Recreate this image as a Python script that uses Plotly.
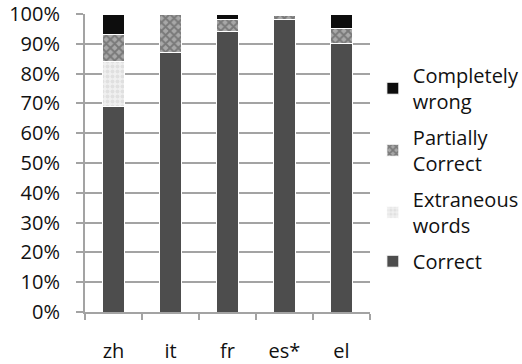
import plotly.graph_objects as go

categories = ["zh", "it", "fr", "es*", "el"]
correct = [69, 87, 94, 98, 90]
extraneous = [15, 0, 0, 0, 0]
partial = [9, 13, 4, 1.5, 5]
wrong = [7, 0, 2, 0.5, 5]
y_ticks = [0, 10, 20, 30, 40, 50, 60, 70, 80, 90, 100]
y_labels = [f"{v}%" for v in y_ticks]

FONT = "Open Sans"
FS = 20
GRID = "#a3a3a3"

fig = go.Figure()
fig.add_trace(go.Bar(x=categories, y=correct, name="Correct", legendgroup="a", legendrank=4,
                     marker=dict(color="#4d4d4d", line=dict(color="white", width=1))))
fig.add_trace(go.Bar(x=categories, y=extraneous, name="Extraneous<br>words", legendgroup="b",
                     legendrank=3,
                     marker=dict(color="#ececec", line=dict(color="white", width=1),
                                 pattern=dict(shape=".", fgcolor="#cfcfcf", bgcolor="#f0f0f0",
                                              size=5, solidity=0.5))))
fig.add_trace(go.Bar(x=categories, y=partial, name="Partially<br>Correct", legendgroup="c",
                     legendrank=2,
                     marker=dict(color="#8a8a8a", line=dict(color="white", width=1),
                                 pattern=dict(shape="x", fgcolor="#4a4a4a", bgcolor="#a8a8a8",
                                              size=6, solidity=0.55))))
fig.add_trace(go.Bar(x=categories, y=wrong, name="Completely<br>wrong", legendgroup="d",
                     legendrank=1,
                     marker=dict(color="#0d0d0d", line=dict(color="white", width=1))))

fig.update_layout(
    barmode="stack",
    bargap=0.6,
    width=522, height=364,
    margin=dict(l=85, r=152, t=14, b=52, autoexpand=False),
    paper_bgcolor="white", plot_bgcolor="white",
    font=dict(family=FONT, size=FS, color="#111"),
    showlegend=True,
    legend=dict(x=1.01, y=0.86, xanchor="left", yanchor="top",
                traceorder="grouped", tracegroupgap=7,
                font=dict(family=FONT, size=FS, color="#111"),
                bgcolor="rgba(0,0,0,0)"),
    xaxis=dict(type="category", showgrid=False, showline=True, linecolor=GRID, linewidth=2,
               automargin=False,
               ticks="outside", tickson="boundaries", ticklen=6, tickwidth=2, tickcolor=GRID,
               ticklabelstandoff=20, tickfont=dict(family=FONT, size=FS, color="#111")),
    yaxis=dict(range=[0, 100], tickvals=y_ticks, ticktext=y_labels, automargin=False,
               showgrid=True, gridcolor=GRID, gridwidth=2,
               showline=True, linecolor=GRID, linewidth=2,
               ticks="outside", ticklen=7, tickwidth=2, tickcolor=GRID,
               ticklabelstandoff=12, zeroline=False,
               tickfont=dict(family=FONT, size=FS, color="#111")),
)

fig.write_html("out.html", config={"displayModeBar": False},
               post_script="document.body.style.margin='0';")
